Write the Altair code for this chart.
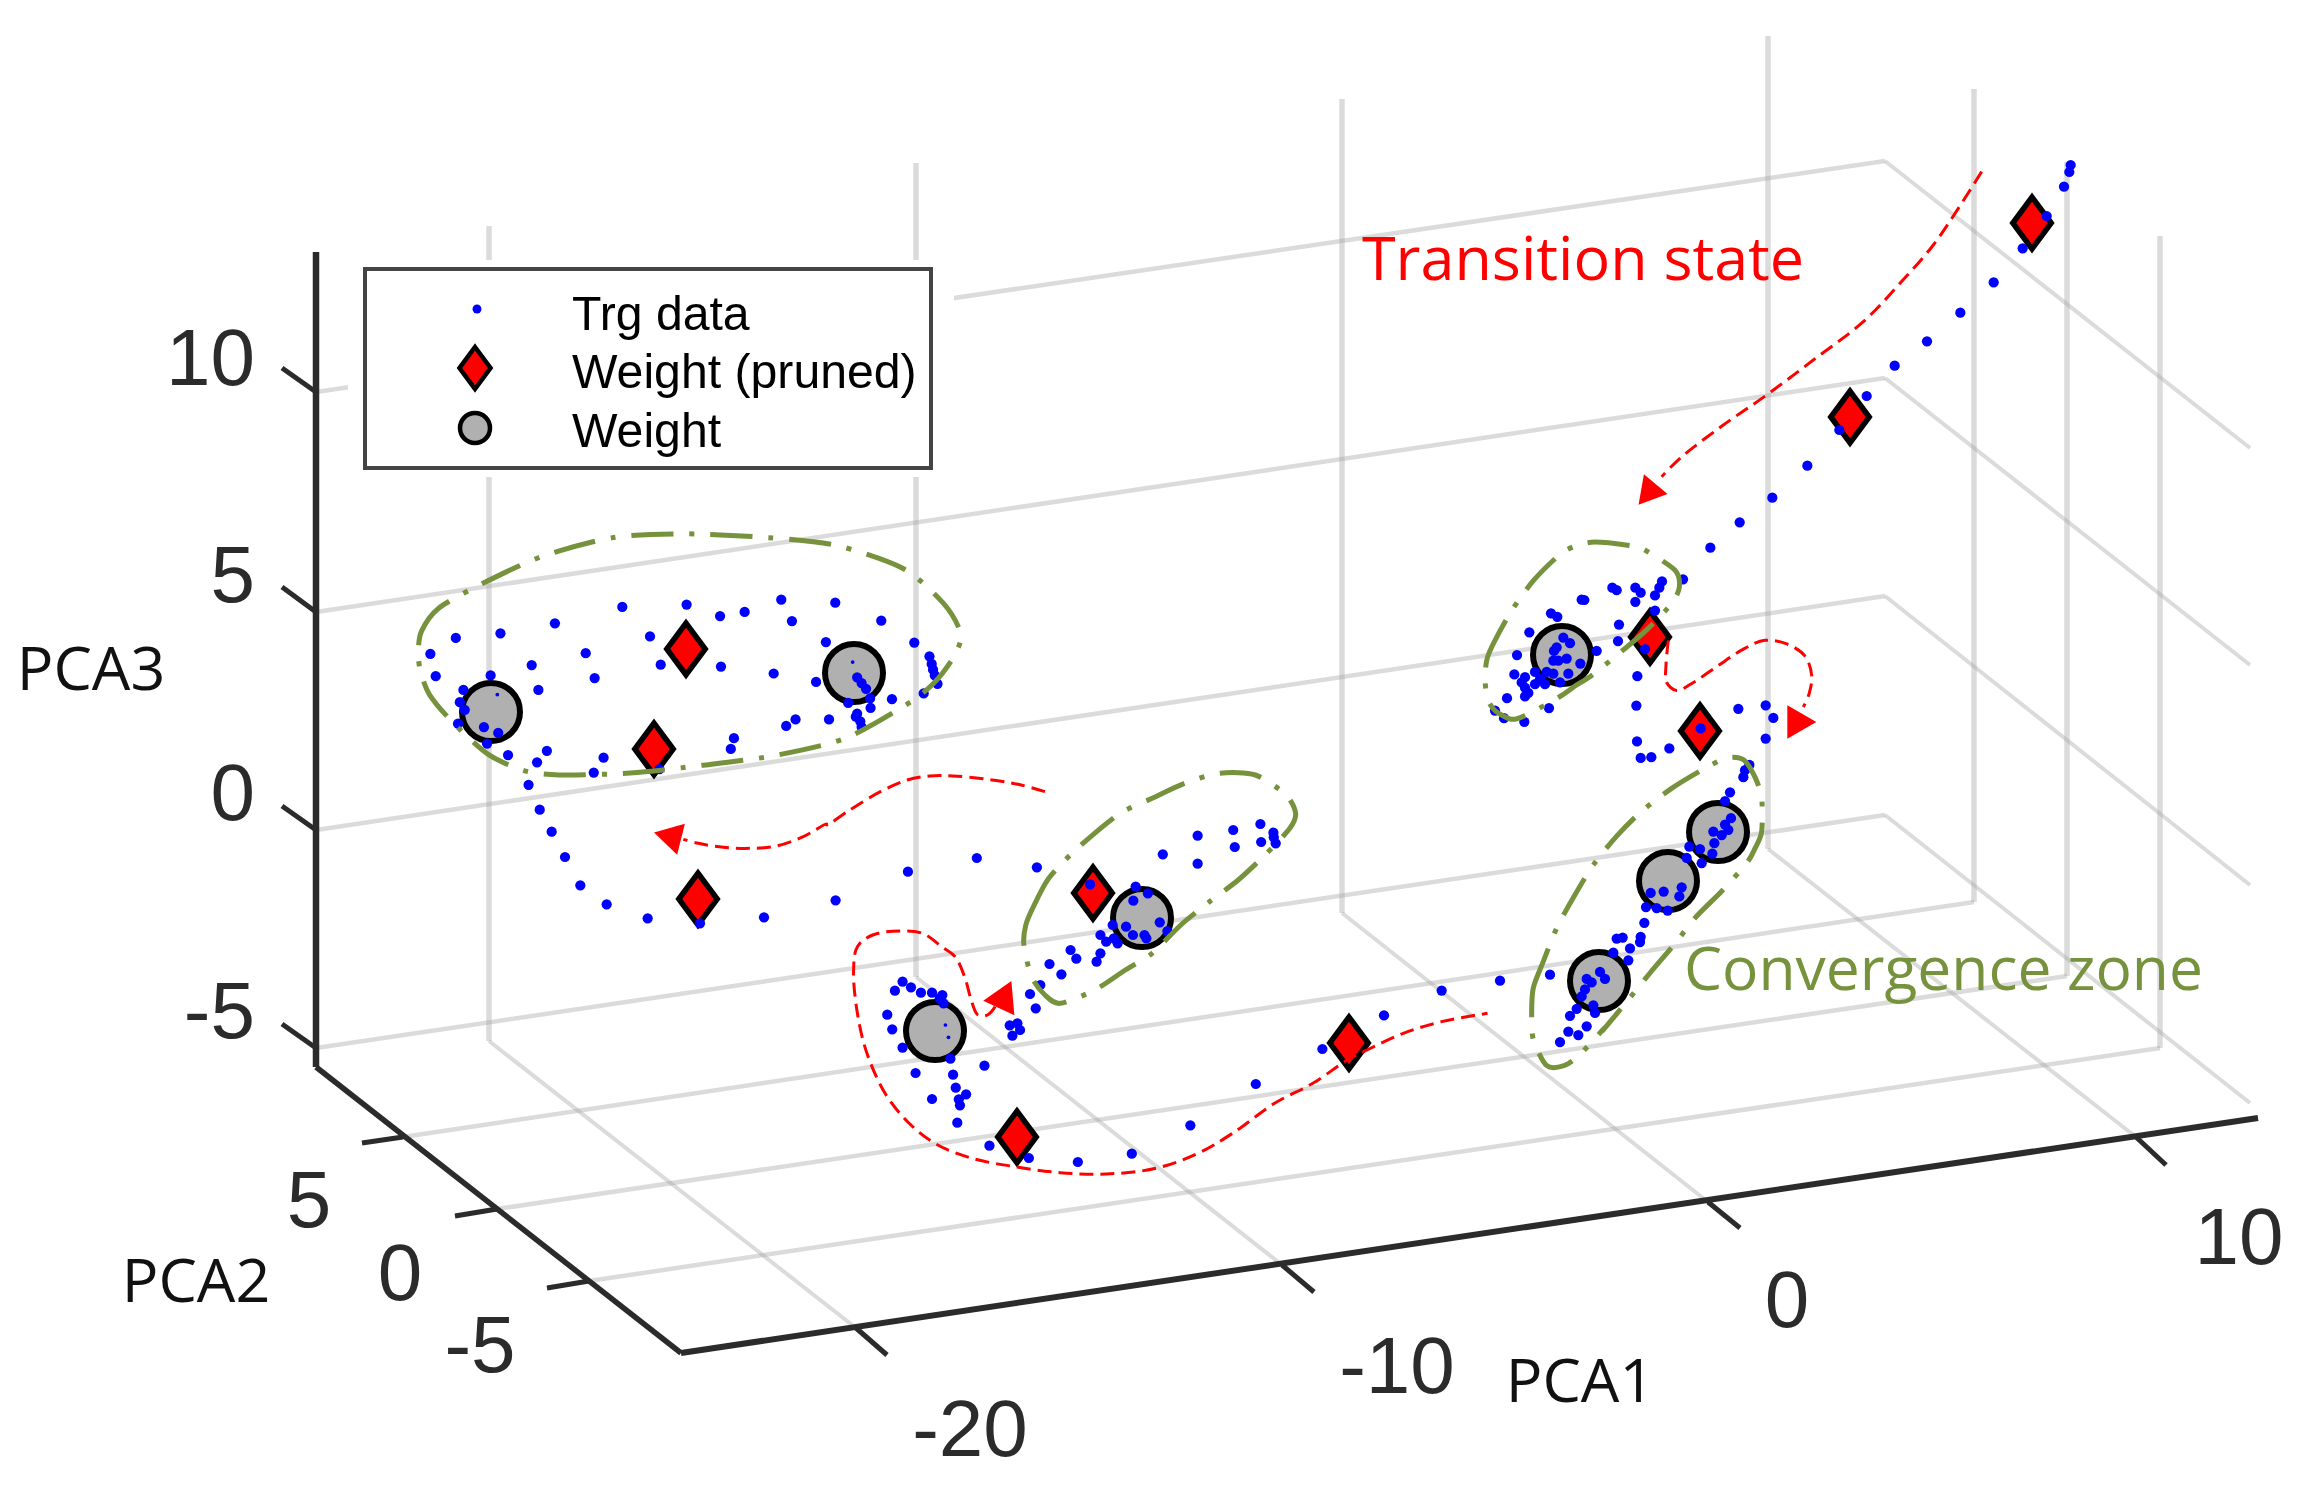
import altair as alt
import pandas as pd

# ---------- readings, in reference pixels unless a crop frame is named ----------
# Each crop frame: x0, y0, scale in x, scale in y
FRAME_A = (300, 220, 2.24, 2.613)
FRAME_B = (1400, 500, 3.0, 2.85)
FRAME_C = (800, 750, 2.613, 3.0)
FRAME_D = (1300, 900, 2.613, 3.0)
FRAME_E = (1600, 130, 3.0, 3.0)
FRAME_F = (480, 720, 3.0, 3.0)

trg_a = [(292,1134),(304,1192),(349,1092),(449,1080),(427,1190),(366,1228),(358,1260),(369,1280),(354,1316),(412,1325),
         (444,1340),(419,1368),(466,1398),(531,1417),(553,1387),(512,1476),(537,1541),(519,1163),(534,1228),(571,1054),
         (640,1132),(660,1197),(722,1011),(784,1088),(808,1162),(866,1005),(941,1035),(996,1024),(943,1167),(1078,992),
         (1102,1048),(1199,1000),(1302,1047),(1178,1103),(1376,1104),(1061,1185),(1156,1207),(680,1405),(658,1444),(805,1435),
         (965,1382),(972,1354),(1089,1322),(1110,1305),(1185,1305),(1228,1262),(1248,1290),(1245,1298),(1255,1310),(1258,1325),
         (1278,1275),(1277,1250),(1326,1252),(1397,1237),(1428,1212),(1410,1140),(1415,1160),(1418,1175),(1422,1190),
         (1248,1195),(1258,1210),(1268,1225)]
trg_a_small = [(442,1240),(1238,1155)]
trg_b = [(849,226),(786,232),(778,250),(765,272),(706,250),(722,264),(706,290),(637,250),(650,257),(545,284),(553,285),
         (453,323),(472,333),(765,315),(657,355),(654,402),(735,425),(712,502),(709,586),(711,688),(722,735),(754,733),
         (808,708),(902,651),(1015,595),(1097,585),(1120,621),(1097,680),(1048,755),(1035,770),(1030,790),(990,833),(975,858),
         (388,377),(351,442),(590,430),(490,392),(510,408),(470,420),(462,430),(460,458),(500,452),(475,458),(541,466),(343,497),
         (405,490),(440,490),(505,495),(375,505),(365,520),(405,525),(435,525),(480,520),(375,535),(385,550),(375,560),(321,565),
         (285,600),(312,622),(373,632),(447,593),(460,495),(420,510),
         (993,907),(975,925),(985,940),(940,945),(965,955),(943,978),(868,988),(900,995),(937,1008),(905,1035),(860,1020),
         (845,1104),(838,1130),(791,1116),(752,1120),(738,1160),(770,1163),(803,1170),(733,1205),(722,1245),(720,1260),(668,1247),
         (650,1250),(690,1278),(640,1290),(685,1312),(450,1353),(300,1370),(125,1398),
         (560,1365),(575,1375),(600,1345),(615,1365),(555,1395),(545,1415),(580,1440),(585,1462),(530,1450),(510,1470),(505,1515),
         (560,1500),(535,1525),(480,1545)]
trg_c = [(93,451),(282,365),(462,324),(619,352),(758,403),(877,410),(909,430),(871,452),(817,525),(852,530),(940,517),(960,543),
         (1039,257),(1132,240),(1203,222),(1237,248),(1136,291),(1205,276),(1238,262),(1243,280),(948,313),(1039,341),(707,600),
         (722,626),(652,642),(683,673),(628,705),(601,732),(616,775),(785,610),(775,635),(785,555),(800,575),(830,580),(870,555),
         (900,555),(905,565),(820,565),(548,826),(568,820),(575,840),(555,857),
         (268,695),(290,712),(248,722),(316,728),(345,728),(372,735),(365,745),(375,760),(228,794),(241,838),(268,893),(393,926),
         (482,947),(302,969),(400,974),(407,1013),(434,1033),(345,1047),(415,1048),(418,1066),(411,1118),(495,1187),(598,1224),
         (726,1236),(867,1211),(1020,1126),(1191,1002),(1365,897),(1526,796)]
trg_c_small = [(380,825),(388,862)]
trg_e = [(1412,105),(1408,126),(1392,170),(1340,258),(1268,355),(1181,457),(1081,548),(981,634),(884,707),(800,798),(718,900),
         (622,1007),(517,1103),(419,1177),(331,1253)]
trg_f = [(215,335),(255,411),(301,496),(380,553),(503,595),(660,610),(852,592)]

weight_x = [491,854,1142,935,1562,1718,1668,1599]
weight_y = [712,673,918,1031,655,832,881,981]
pruned_x = [686,654,1093,1017,1349,1650,1700,1850,2032,698]
pruned_y = [649,749,893,1137,1043,637,731,417,223,899]

# grid: back wall verticals, right wall verticals, walls and floor
back_x = [489,916,1342,1768]
back_top = [226,163,99,36]
back_bottom = [1041,977,913,849]
right_x = [1974,2067,2160]
right_top = [89,162,236]
right_bottom = [902,976,1048]
z_left = [392,612,830,1048]
z_corner = [161,378,596,815]
z_right = [448,665,885,1103]
y_tick_x = [403,497,589]
y_tick_y = [1137,1209,1281]
y_tick_out_x = [362,455,547]
y_tick_out_y = [1143,1216,1288]
x_tick_x = [856,1282,1708,2136]
x_tick_y = [1328,1265,1202,1137]
x_tick_out_x = [887,1314,1740,2166]
x_tick_out_y = [1355,1292,1228,1165]
z_tick_out_y = [368,587,806,1024]

z_labels = ["10","5","0","-5"]
z_label_y = [361,578,796,1014]
other_labels = ["5","0","-5","-20","-10","0","10"]
other_label_x = [309,400,480,970,1397,1787,2239]
other_label_y = [1203,1276,1348,1432,1369,1303,1240]

names = ["PCA3","PCA2","PCA1"]
name_x = [91,196,1580]
name_y = [672,1284,1384]

legend_labels = ["Trg data","Weight (pruned)","Weight"]
legend_text_y = [316,374,433]

green_a = [(265,1130),(272,1075),(310,1015),(400,955),(540,880),(700,830),(860,820),(1050,830),(1200,850),(1350,910),(1440,1000),
           (1480,1080),(1465,1140),(1420,1210),(1360,1265),(1220,1355),(1060,1400),(900,1425),(740,1445),(580,1450),(500,1438),
           (420,1395),(340,1310),(290,1240),(270,1180)]
green_c = [(590,525),(610,470),(650,385),(720,300),(830,195),(920,145),(1005,100),(1095,70),(1190,75),(1270,135),(1295,190),
           (1280,235),(1215,315),(1145,390),(1070,455),(995,525),(920,610),(850,660),(770,720),(680,760),(640,735),(605,680),(585,585)]
green_b1 = [(255,505),(262,450),(285,400),(335,315),(400,230),(480,155),(530,130),(585,120),(690,130),(730,140),(825,200),
            (838,248),(815,295),(740,370),(660,435),(575,500),(525,530),(480,560),(385,610),(335,625),(285,600),(262,565)]
green_b2 = [(395,1465),(400,1390),(430,1315),(470,1220),(525,1125),(580,1040),(650,958),(725,887),(815,822),(905,770),(980,735),
            (1030,740),(1065,790),(1085,850),(1085,945),(1065,993),(1040,1035),(965,1115),(888,1188),(820,1270),(750,1348),
            (680,1430),(610,1510)]
green_d2 = [(795,385),(730,465),(690,497),(645,497),(610,420)]

red_top = [(1145,125),(1075,235),(1000,345),(900,460),(790,575),(640,690),(500,795),(370,885),(240,985),(185,1040)]
red_right = [(805,400),(798,470),(800,520),(830,543),(880,520),(950,475),(1030,425),(1095,400),(1160,410),(1215,445),(1235,500),(1228,550),(1210,590)]
red_left_c = [(640,125),(570,103),(490,88),(400,78),(340,78),(280,90),(210,125),(130,180),(70,225)]
red_left_f = [(1040,312),(970,350),(890,378),(810,385),(730,382),(655,370),(610,358)]
red_low_c = [(510,770),(490,795),(465,795),(450,760),(430,680),(405,620),(370,590),(320,550),(260,543),(190,555),(150,590),(140,660),
             (150,790),(175,910),(225,1035),(290,1125),(360,1185),(450,1225),(560,1250),(680,1268),(800,1272),(930,1255),(1040,1210),
             (1130,1150),(1240,1060),(1340,1000),(1430,930)]
red_low_d = [(175,450),(270,400),(370,365),(490,340)]

arrow_x = [1650,1797,672,1003]
arrow_y = [491,722,837,999]
arrow_angle = [220,90,284,265]
arrow_size = [950,1120,1030,1180]


def conv(points, frame):
    x0, y0, fx, fy = frame
    return [(x0 + a / fx, y0 + b / fy) for a, b in points]


def frame_df(points):
    return pd.DataFrame(points, columns=["x", "y"])


def segs(x1, y1, x2, y2):
    return pd.DataFrame({"x": x1, "y": y1, "x2": x2, "y2": y2})


X = alt.X("x:Q", axis=None, scale=alt.Scale(domain=[8, 2308], nice=False, zero=False))
Y = alt.Y("y:Q", axis=None, scale=alt.Scale(domain=[1483, 8], nice=False, zero=False))


def rules(df, color, width, opacity=1.0):
    return alt.Chart(df).mark_rule(color=color, strokeWidth=width, opacity=opacity).encode(
        x=X, y=Y, x2="x2:Q", y2="y2:Q")


def curve(points, color, width, dash, interp, **kw):
    df = frame_df(points).reset_index().rename(columns={"index": "i"})
    return alt.Chart(df).mark_line(color=color, strokeWidth=width, strokeDash=dash,
                                   interpolate=interp, **kw).encode(x=X, y=Y, order="i:Q")


def dots(points, size):
    return alt.Chart(frame_df(points)).mark_circle(size=size, color="#0000ff", opacity=1).encode(x=X, y=Y)


def label(texts, xs, ys, font, size, color, align="center", baseline="middle"):
    df = pd.DataFrame({"x": xs, "y": ys, "t": texts})
    return alt.Chart(df).mark_text(font=font, fontSize=size, color=color, align=align, baseline=baseline).encode(
        x=X, y=Y, text="t:N")


DIAMOND = "M0,-1L0.74,0L0,1L-0.74,0Z"
GRID = "#a4a4a4"
AXIS = "#2b2b2b"
RED = "#ff0000"
OLIVE = "#76923c"
ARIAL = "Liberation Sans"
CAL = "Open Sans"
GREEN_DASH = [42, 16, 5, 16]
RED_DASH = [14, 7]

grid_back = segs(back_x, back_top, back_x, back_bottom)
grid_right = segs(right_x, right_top, right_x, right_bottom)
wall_back = segs([316] * 4, z_left, [1885] * 4, z_corner)
wall_right = segs([1885] * 4, z_corner, [2250] * 4, z_right)
floor_y = segs(y_tick_x, y_tick_y, right_x, right_bottom)
floor_x = segs(back_x, back_bottom, x_tick_x, x_tick_y)

layers = [
    rules(grid_back, GRID, 5.5, 0.4),
    rules(grid_right, GRID, 5.5, 0.4),
    rules(wall_back, GRID, 4.5, 0.4),
    rules(wall_right, GRID, 4, 0.4),
    rules(floor_y, GRID, 4.5, 0.4),
    rules(floor_x, GRID, 4, 0.4),
    # white margin around the legend hides the grid behind it
    alt.Chart(segs([348], [260], [954], [477])).mark_rect(color="white").encode(x=X, y=Y, x2="x2:Q", y2="y2:Q"),
    # axes
    rules(segs([316], [252], [316], [1067]), AXIS, 6.5),
    rules(segs([316], [1067], [681], [1353]), AXIS, 5.5),
    rules(segs([681], [1353], [2258], [1118]), AXIS, 6),
    rules(segs([316] * 4, z_left, [282] * 4, z_tick_out_y), AXIS, 5),
    rules(segs(y_tick_x, y_tick_y, y_tick_out_x, y_tick_out_y), AXIS, 5),
    rules(segs(x_tick_x, x_tick_y, x_tick_out_x, x_tick_out_y), AXIS, 5),
    # weights
    alt.Chart(pd.DataFrame({"x": weight_x, "y": weight_y})).mark_point(
        shape="circle", filled=True, fill="#b0b0b0", stroke="black", strokeWidth=6, size=3364, opacity=1).encode(x=X, y=Y),
    alt.Chart(pd.DataFrame({"x": pruned_x, "y": pruned_y})).mark_point(
        shape=DIAMOND, filled=True, fill="#ff0000", stroke="black", strokeWidth=5.5, size=2700, opacity=1).encode(x=X, y=Y),
    # training data
    dots(conv(trg_a, FRAME_A) + conv(trg_b, FRAME_B) + conv(trg_c, FRAME_C) + conv(trg_e, FRAME_E) + conv(trg_f, FRAME_F), 105),
    dots(conv(trg_a_small, FRAME_A) + conv(trg_c_small, FRAME_C), 14),
    # annotation curves
    curve(conv(green_a, FRAME_A), OLIVE, 5, GREEN_DASH, "cardinal-closed", tension=0.2),
    curve(conv(green_c, FRAME_C), OLIVE, 5, GREEN_DASH, "cardinal-closed", tension=0.2),
    curve(conv(green_b1, FRAME_B), OLIVE, 5, GREEN_DASH, "cardinal-closed", tension=0.2),
    curve(conv(green_b2, FRAME_B) + conv(green_d2, FRAME_D), OLIVE, 5, GREEN_DASH, "cardinal-closed", tension=0.2),
    curve(conv(red_top, FRAME_E), RED, 3, RED_DASH, "catmull-rom"),
    curve(conv(red_right, FRAME_B), RED, 3, RED_DASH, "catmull-rom"),
    curve(conv(red_left_c, FRAME_C) + conv(red_left_f, FRAME_F), RED, 3, RED_DASH, "catmull-rom"),
    curve(conv(red_low_c, FRAME_C) + conv(red_low_d, FRAME_D), RED, 3, RED_DASH, "catmull-rom"),
]
layers += [
    alt.Chart(pd.DataFrame({"x": [arrow_x[i]], "y": [arrow_y[i]]})).mark_point(
        shape="triangle", filled=True, color=RED, opacity=1, size=arrow_size[i], angle=arrow_angle[i]).encode(x=X, y=Y)
    for i in range(4)
]
layers += [
    label(z_labels, [255] * 4, z_label_y, ARIAL, 80, AXIS, align="right"),
    label(other_labels, other_label_x, other_label_y, ARIAL, 80, AXIS),
    label(names, name_x, name_y, CAL, 61, "#111111"),
    label(["Transition state"], [1362], [280], CAL, 61, RED, align="left", baseline="alphabetic"),
    label(["Convergence zone"], [1684], [990], CAL, 60.5, OLIVE, align="left", baseline="alphabetic"),
    # legend
    alt.Chart(segs([365], [269], [931], [468])).mark_rect(fill="white", stroke="#444444", strokeWidth=4).encode(
        x=X, y=Y, x2="x2:Q", y2="y2:Q"),
    dots([(477, 309)], 80),
    alt.Chart(pd.DataFrame({"x": [475], "y": [368]})).mark_point(
        shape=DIAMOND, filled=True, fill="#ff0000", stroke="black", strokeWidth=4.5, size=1764, opacity=1).encode(x=X, y=Y),
    alt.Chart(pd.DataFrame({"x": [475], "y": [428]})).mark_point(
        shape="circle", filled=True, fill="#b0b0b0", stroke="black", strokeWidth=4.5, size=900, opacity=1).encode(x=X, y=Y),
    label(legend_labels, [572] * 3, legend_text_y, ARIAL, 48.2, "black", align="left"),
]

chart = alt.layer(*layers).properties(
    width=2300, height=1475, padding=0, background="white"
).configure_view(stroke=None)

chart.save("out.html", embed_options={"renderer": "svg", "actions": False})
